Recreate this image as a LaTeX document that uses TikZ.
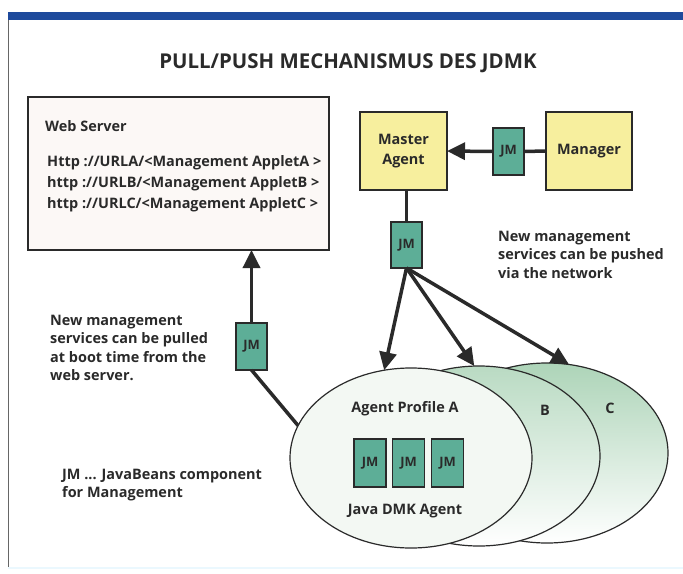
\documentclass[tikz,border=0pt]{standalone}
\usepackage{fontspec}
\setmainfont{Open Sans}
\usetikzlibrary{arrows.meta,shapes.geometric}
\definecolor{jmteal}{HTML}{5DAE97}
\definecolor{agyellow}{HTML}{F7EF9E}
\definecolor{barblue}{HTML}{1E4A9C}
\definecolor{ink}{HTML}{2A2A2A}
\definecolor{webfill}{HTML}{FCF8F6}
\definecolor{ellA}{HTML}{F3F8F3}
\definecolor{ellTop}{HTML}{ADD4B8}
\begin{document}
\begin{tikzpicture}[x=1bp,y=-1bp,
  box/.style={draw=ink, line width=1.3bp, inner sep=0pt, outer sep=0pt},
  jm/.style={box, fill=jmteal, minimum width=31bp, minimum height=47bp, font=\bfseries\fontsize{13}{14}\selectfont, text=ink},
  agent/.style={box, fill=agyellow, minimum width=87bp, minimum height=78bp, align=center, font=\bfseries\fontsize{14.5}{20}\selectfont, text=ink},
  profile/.style={draw=ink, line width=1.2bp, ellipse, minimum width=242bp, minimum height=180bp, inner sep=0pt, outer sep=0pt},
  conn/.style={line width=3.5bp, draw=ink},
  arr/.style={conn, -{Triangle[length=18bp,width=17bp]}},
  txt/.style={font=\bfseries\fontsize{14.5}{18.5}\selectfont, text=ink, align=left, inner sep=0pt, anchor=north west},
  lbl/.style={font=\bfseries\fontsize{14.5}{16}\selectfont, text=ink, inner sep=0pt},
]
\useasboundingbox (0,0) rectangle (683,574);
\fill[white] (0,0) rectangle (683,574);
\fill[barblue] (8,12) rectangle (683,20);
\draw[gray!80!black, line width=1bp] (8.5,20) -- (8.5,568);
\draw[cyan!8, line width=1.5bp] (8,568) -- (683,568);

\node[font=\bfseries\fontsize{20.5}{24}\selectfont, text=ink] (title) at (348,63) {PULL/PUSH MECHANISMUS DES JDMK};

% web server
\node[box, fill=webfill, minimum width=301bp, minimum height=153bp] (ws) at (178.5,173.5) {};
\node[txt] (wst) at (45,120) {Web Server};
\node[txt, font=\bfseries\fontsize{14.5}{21}\selectfont] (urls) at (47,155) {Http ://URLA/<Management AppletA >\\http ://URLB/<Management AppletB >\\http ://URLC/<Management AppletC >};

% agents
\node[agent] (ma) at (403.5,151) {Master\\Agent};
\node[agent, minimum width=86bp] (mgr) at (589,151) {Manager};
\node[jm] (jm1) at (508.5,151.5) {JM};
\node[jm, minimum height=46bp] (jm2) at (406.5,245) {JM};
\node[jm] (jm3) at (251.5,346.5) {JM};

% profiles
\node[profile, top color=ellTop, middle color=white, bottom color=white] (C) at (547,453) {};
\node[profile, top color=ellTop!85!white, middle color=white, bottom color=white] (B) at (479,456) {};
\node[profile, fill=ellA] (A) at (411,458) {};
\node[lbl] (la) at (405,409) {Agent Profile A};
\node[lbl] (lb) at (545,410) {B};
\node[lbl] (lc) at (610,408) {C};
\node[jm, minimum width=32bp, minimum height=48bp] (ja1) at (370,463) {JM};
\node[jm, minimum width=32bp, minimum height=48bp] (ja2) at (408.5,463) {JM};
\node[jm, minimum width=32bp, minimum height=48bp] (ja3) at (447.5,463) {JM};
\node[lbl] (ld) at (405,511) {Java DMK Agent};

% connectors
\draw[conn] (mgr.west) -- (jm1.east);
\draw[arr] (jm1.west) -- (ma.east);
\draw[conn] (jm2.north) -- (jm2.north |- ma.south);
\draw[arr] (jm2.south) -- (A.107);
\draw[arr] (jm2.south) -- (B.93);
\draw[arr] (jm2.south) -- (C.76);
\draw[arr] (jm3.north) -- (jm3.north |- ws.south);
\draw[conn] (jm3.south) -- (A.164);

% notes
\node[txt] (push) at (498,231) {New management\\services can be pushed\\via the network};
\node[txt] (pull) at (50,315) {New management\\services can be pulled\\at boot time from the\\web server.};
\node[txt] (legend) at (62,469) {JM ... JavaBeans component\\for Management};
\end{tikzpicture}
\end{document}
